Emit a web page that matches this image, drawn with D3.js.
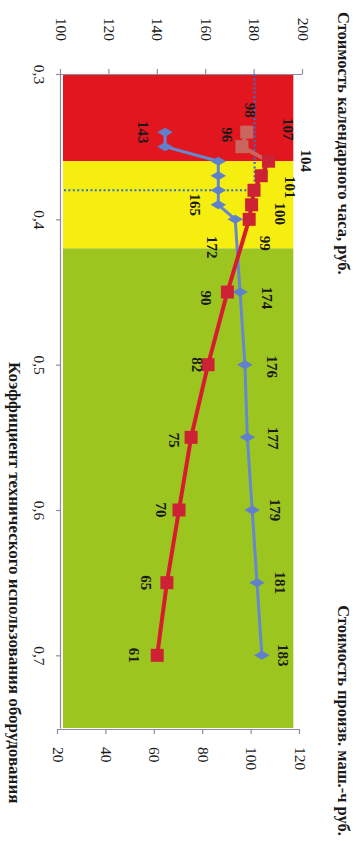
<!DOCTYPE html>
<html>
<head>
<meta charset="utf-8">
<script src="https://cdn.jsdelivr.net/npm/d3@7/dist/d3.min.js"></script>
<style>
  html, body { margin: 0; padding: 0; background: #fff; }
  svg { display: block; }
  text { font-family: "Liberation Serif", "DejaVu Serif", serif; fill: #1a1a1a; }
</style>
</head>
<body>
<svg id="chart" width="356" height="841"></svg>
<script>
// Coefficient of technical use of equipment (x axis)
const coef = [0.34, 0.35, 0.36, 0.37, 0.38, 0.39, 0.40, 0.45, 0.50, 0.55, 0.60, 0.65, 0.70];
// Cost of a calendar hour, rub. (left axis)
const calendarCost = [143, 143, 165, 165, 165, 165, 172, 174, 176, 177, 179, 181, 183];
// Cost of a productive machine-hour, rub. (right axis)
const machineHourCost = [98, 96, 107, 104, 101, 100, 99, 90, 82, 75, 70, 65, 61];
// The first two machine-hour points are shown muted
const machineHourMuted = [true, true, false, false, false, false, false, false, false, false, false, false, false];
// Which calendar-hour points carry a value label
const calendarLabelled = [true, false, false, false, false, true, true, true, true, true, true, true, true];

// Zones along the coefficient axis
const zoneFrom = [0.30, 0.36, 0.42];
const zoneTo = [0.36, 0.42, 0.75];
const zoneColor = ["#e1161e", "#f5ee0e", "#9dc51f"];
const zoneTopValue = 196; // in left-axis units

// Reference point marked with dotted guides
const refCoef = 0.38;
const refCost = 180;

// Tick values
const xTicks = [0.3, 0.4, 0.5, 0.6, 0.7];
const leftTicks = [100, 120, 140, 160, 180, 200];
const rightTicks = [20, 40, 60, 80, 100, 120];

// Label placement offsets (along / across the x axis), layout only
const calendarLabelOffset = [[0, 22], null, null, null, null, [0, 23], [28, 23], [6, -27], [2, -27], [1, -26], [0, -23], [0, -23], [0, -21]];
const machineLabelOffset = [[-22, -3], [-12, 15], [-32, -20], [-15, -45], [-3, -36], [9, -29], [24, -16], [6, 21], [0, 11], [3, 17], [0, 18], [0, 21], [0, 23]];

// The chart is laid out in a 841 x 356 frame that is turned a quarter clockwise
const W = 841, H = 356;
const svg = d3.select("#chart");
const g = svg.append("g").attr("transform", `translate(${H},0) rotate(90)`);

const x = d3.scaleLinear().domain([0.3, 0.75]).range([74, 728]);
const yL = d3.scaleLinear().domain([100, 200]).range([295, 53]);
const yR = d3.scaleLinear().domain([20, 120]).range([298, 56]);

// Zones
g.append("g").selectAll("rect")
  .data(zoneFrom.map((f, i) => ({ from: f, to: zoneTo[i], color: zoneColor[i] })))
  .join("rect")
  .attr("x", d => x(d.from))
  .attr("width", d => x(d.to) - x(d.from))
  .attr("y", yL(zoneTopValue))
  .attr("height", yL(100) - 2 - yL(zoneTopValue))
  .attr("fill", d => d.color);

// Axes
const axisColor = "#8e8aa0";
function styleAxis(sel) {
  sel.selectAll("path.domain").attr("stroke", axisColor).attr("stroke-width", 1.2);
  sel.selectAll("line").attr("stroke", axisColor).attr("stroke-width", 1.2);
  sel.selectAll("text").attr("fill", "#1a1a1a").style("font-size", "15.5px")
    .style("font-family", "'Liberation Serif', serif");
}

g.append("g")
  .attr("transform", `translate(0,${yL(100)})`)
  .call(d3.axisBottom(x).tickValues(xTicks).tickSize(5).tickSizeOuter(0).tickPadding(11)
    .tickFormat(d => d.toFixed(1).replace(".", ",")))
  .call(styleAxis);

g.append("g")
  .attr("transform", `translate(${x(0.3)},0)`)
  .call(d3.axisLeft(yL).tickValues(leftTicks).tickSize(5).tickSizeOuter(0).tickPadding(28)
    .tickFormat(d3.format("d")))
  .call(styleAxis);

g.append("g")
  .attr("transform", `translate(${x(0.75) + 1},0)`)
  .call(d3.axisRight(yR).tickValues(rightTicks).tickSize(5).tickSizeOuter(0).tickPadding(13)
    .tickFormat(d3.format("d")))
  .call(styleAxis);

// Dotted guides to the reference point
const guide = g.append("g")
  .attr("stroke", "#2f72cf").attr("stroke-width", 2.2)
  .attr("stroke-dasharray", "2,2.4").attr("fill", "none");
guide.append("line")
  .attr("x1", x(0.3)).attr("x2", x(refCoef))
  .attr("y1", yL(refCost)).attr("y2", yL(refCost));
guide.append("line")
  .attr("x1", x(refCoef)).attr("x2", x(refCoef))
  .attr("y1", yL(100) - 3).attr("y2", yL(refCost));

// Calendar-hour cost series (blue, diamonds)
const blue = "#5f80cc";
const calPts = coef.map((c, i) => ({ c, v: calendarCost[i], i }));
g.append("path")
  .datum(calPts)
  .attr("fill", "none").attr("stroke", "#6688d0").attr("stroke-width", 3)
  .attr("d", d3.line().x(d => x(d.c)).y(d => yL(d.v)));
g.append("g").selectAll("path")
  .data(calPts).join("path")
  .attr("transform", d => `translate(${x(d.c)},${yL(d.v)})`)
  .attr("d", d3.symbol(d3.symbolDiamond, 70))
  .attr("fill", blue);

// Machine-hour cost series (red, squares)
const mhPts = coef.map((c, i) => ({ c, v: machineHourCost[i], muted: machineHourMuted[i], i }));
const lineR = d3.line().x(d => x(d.c)).y(d => yR(d.v));
g.append("path")
  .datum(mhPts.filter((d, i) => i >= 1 && i <= 2))
  .attr("fill", "none").attr("stroke", "#c9655c").attr("stroke-width", 4).attr("d", lineR);
g.append("path")
  .datum(mhPts.filter(d => d.muted))
  .attr("fill", "none").attr("stroke", "#c9655c").attr("stroke-width", 4).attr("d", lineR);
g.append("path")
  .datum(mhPts.filter(d => !d.muted))
  .attr("fill", "none").attr("stroke", "#d81c30").attr("stroke-width", 4).attr("d", lineR);
g.append("g").selectAll("rect")
  .data(mhPts).join("rect")
  .attr("x", d => x(d.c) - 6.5).attr("y", d => yR(d.v) - 6.5)
  .attr("width", 13).attr("height", 13)
  .attr("fill", d => d.muted ? "#c9665e" : "#cd2234");

// Value labels
const labels = g.append("g")
  .attr("text-anchor", "middle")
  .style("font-size", "15px").style("font-weight", "bold");
labels.selectAll("text.cal")
  .data(calPts.filter(d => calendarLabelled[d.i]))
  .join("text").attr("class", "cal")
  .attr("x", d => x(d.c) + calendarLabelOffset[d.i][0])
  .attr("y", d => yL(d.v) + calendarLabelOffset[d.i][1])
  .attr("dy", "0.35em")
  .text(d => d.v);
labels.selectAll("text.mh")
  .data(mhPts)
  .join("text").attr("class", "mh")
  .attr("x", d => x(d.c) + machineLabelOffset[d.i][0])
  .attr("y", d => yR(d.v) + machineLabelOffset[d.i][1])
  .attr("dy", "0.35em")
  .text(d => d.v);

// Axis titles
const titles = g.append("g").style("font-weight", "bold");
titles.append("text")
  .attr("x", 12).attr("y", 18).attr("text-anchor", "start")
  .style("font-size", "16.5px")
  .text("Стоимость календарного часа, руб.");
titles.append("text")
  .attr("x", 836).attr("y", 18).attr("text-anchor", "end")
  .style("font-size", "16.5px")
  .text("Стоимость произв. маш.-ч руб.");
titles.append("text")
  .attr("x", x(0.65)).attr("y", 347).attr("text-anchor", "middle")
  .style("font-size", "17px")
  .text("Коэффициент технического использования оборудования");
</script>
</body>
</html>
